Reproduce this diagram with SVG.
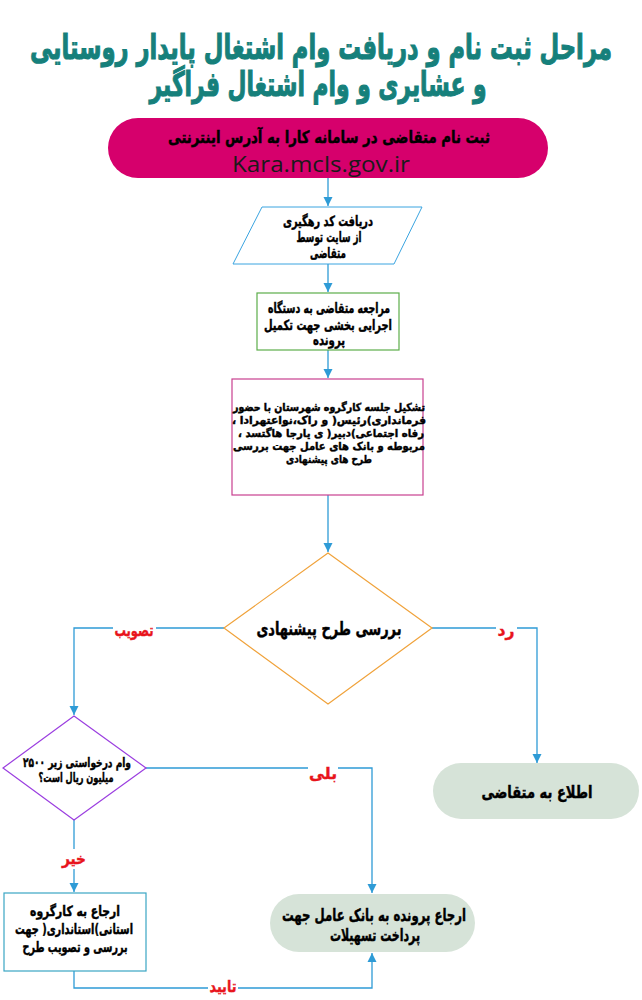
<svg xmlns="http://www.w3.org/2000/svg" width="642" height="1000" viewBox="0 0 642 1000">
<defs>
<marker id="ah" markerWidth="10" markerHeight="10" refX="9" refY="5" orient="auto" markerUnits="userSpaceOnUse">
<path d="M0,0.5 L9,5 L0,9.5 Z" fill="#2e9bd6"/>
</marker>
<style>
.t{font-family:"DejaVu Sans","Noto Sans",sans-serif;font-weight:bold;fill:#000;stroke:#000;stroke-width:0.45;text-anchor:middle;direction:rtl}
.title{font-family:"DejaVu Sans","Noto Sans",sans-serif;font-weight:bold;fill:#16807b;stroke:#16807b;stroke-width:1.1;text-anchor:middle;direction:rtl;font-size:34px}
.lbl{font-family:"DejaVu Sans","Noto Sans",sans-serif;font-weight:bold;fill:#e8141c;stroke:#e8141c;stroke-width:0.4;text-anchor:middle;direction:rtl;font-size:16px}
.c{fill:none;stroke:#2e9bd6;stroke-width:1.3;marker-end:url(#ah)}
.bg{fill:#fff}
</style>
</defs>
<rect width="642" height="1000" fill="#fff"/>

<g id="title">
<text class="title" transform="translate(321,59) scale(0.6,1)" x="0" y="0" textLength="970" lengthAdjust="spacingAndGlyphs">مراحل ثبت نام و دریافت وام اشتغال پایدار روستایی</text>
<text class="title" transform="translate(318,96) scale(0.6,1)" x="0" y="0" textLength="562" lengthAdjust="spacingAndGlyphs">و عشایری و وام اشتغال فراگیر</text>
</g>

<g id="connectors">
<path class="c" d="M328,178 V206"/>
<path class="c" d="M328,264 V292"/>
<path class="c" d="M328,350 V378"/>
<path class="c" d="M328,495 V552"/>
<path class="c" d="M224,628 H74 V715"/>
<path class="c" d="M432,628 H537 V763"/>
<path class="c" d="M146,768 H372 V893"/>
<path class="c" d="M74,820 V892"/>
<path class="c" d="M74,971 V988 H372 V953"/>
<rect class="bg" x="113" y="620" width="43" height="18"/>
<text class="lbl" x="134" y="636" textLength="39" lengthAdjust="spacingAndGlyphs">تصویب</text>
<rect class="bg" x="496" y="620" width="21" height="18"/>
<text class="lbl" x="506" y="636" textLength="17" lengthAdjust="spacingAndGlyphs">رد</text>
<rect class="bg" x="308" y="764" width="30" height="18"/>
<text class="lbl" x="323" y="779" textLength="28" lengthAdjust="spacingAndGlyphs">بلی</text>
<rect class="bg" x="61" y="849" width="26" height="20"/>
<text class="lbl" x="74" y="864" textLength="24" lengthAdjust="spacingAndGlyphs">خیر</text>
<rect class="bg" x="208" y="977" width="30" height="20"/>
<text class="lbl" x="223" y="992" textLength="27" lengthAdjust="spacingAndGlyphs">تایید</text>
</g>

<g id="n1">
<rect x="108" y="118" width="440" height="60" rx="30" fill="#d6006c"/>
<text class="t" x="329" y="143" font-size="17" textLength="322" lengthAdjust="spacingAndGlyphs">ثبت نام متقاضی در سامانه کارا به آدرس اینترنتی</text>
<text x="321" y="172" font-family="'Open Sans','Noto Sans',sans-serif" font-size="22" fill="#1a1a1a" text-anchor="middle" textLength="178" lengthAdjust="spacingAndGlyphs">Kara.mcls.gov.ir</text>
</g>

<g id="n2">
<polygon points="262,207 422,207 394,264 233,264" fill="#fff" stroke="#3aa4e0" stroke-width="1"/>
<text class="t" x="328" y="226" font-size="14" textLength="90" lengthAdjust="spacingAndGlyphs">دریافت کد رهگیری</text>
<text class="t" x="329" y="242" font-size="14" textLength="65" lengthAdjust="spacingAndGlyphs">از سایت توسط</text>
<text class="t" x="328" y="258" font-size="14" textLength="36" lengthAdjust="spacingAndGlyphs">متقاضی</text>
</g>

<g id="n3">
<rect x="257" y="293" width="142" height="57" fill="#fff" stroke="#5cad4a" stroke-width="1.2"/>
<text class="t" x="329" y="313" font-size="14" textLength="122" lengthAdjust="spacingAndGlyphs">مراجعه متقاضی به دستگاه</text>
<text class="t" x="328" y="330" font-size="14" textLength="128" lengthAdjust="spacingAndGlyphs">اجرایی بخشی جهت تکمیل</text>
<text class="t" x="329" y="345" font-size="14" textLength="32" lengthAdjust="spacingAndGlyphs">پرونده</text>
</g>

<g id="n4">
<rect x="232" y="379" width="191" height="116" fill="#fff" stroke="#c8408f" stroke-width="1.2"/>
<text class="t" x="329" y="411" font-size="11" textLength="192" lengthAdjust="spacingAndGlyphs">تشکیل جلسه کارگروه شهرستان با حضور</text>
<text class="t" x="329" y="424" font-size="11" textLength="194" lengthAdjust="spacingAndGlyphs">فرمانداری)رئیس( و راک،نواعتهرادا ،</text>
<text class="t" x="331" y="437" font-size="11" textLength="186" lengthAdjust="spacingAndGlyphs">رفاه اجتماعی)دبیر( ی یارجا هاگتسد ،</text>
<text class="t" x="329" y="450" font-size="11" textLength="192" lengthAdjust="spacingAndGlyphs">مربوطه و بانک های عامل جهت بررسی</text>
<text class="t" x="329" y="463" font-size="11" textLength="86" lengthAdjust="spacingAndGlyphs">طرح های پیشنهادی</text>
</g>

<g id="n5">
<polygon points="328,553 432,628 328,704 224,628" fill="#fff" stroke="#f0a23a" stroke-width="1.2"/>
<text class="t" x="329" y="635" font-size="18" textLength="145" lengthAdjust="spacingAndGlyphs">بررسی طرح پیشنهادی</text>
</g>

<g id="n6">
<polygon points="74,716 146,768 74,820 3,768" fill="#fff" stroke="#9b3ee0" stroke-width="1.2"/>
<text class="t" x="77" y="767" font-size="13" textLength="108" lengthAdjust="spacingAndGlyphs">وام درخواستی زیر ۲۵۰۰</text>
<text class="t" x="76" y="782" font-size="13" textLength="75" lengthAdjust="spacingAndGlyphs">میلیون ریال است؟</text>
</g>

<g id="n7">
<rect x="433" y="763" width="206" height="56" rx="28" fill="#d6e3d8"/>
<text class="t" x="537" y="798" font-size="17" textLength="111" lengthAdjust="spacingAndGlyphs">اطلاع به متقاضی</text>
</g>

<g id="n8">
<rect x="4" y="893" width="142" height="78" fill="#fff" stroke="#3aa6c4" stroke-width="1.2"/>
<text class="t" x="75" y="916" font-size="14" textLength="90" lengthAdjust="spacingAndGlyphs">ارجاع به کارگروه</text>
<text class="t" x="74" y="934" font-size="14" textLength="118" lengthAdjust="spacingAndGlyphs">استانی)استانداری( جهت</text>
<text class="t" x="75" y="952" font-size="14" textLength="105" lengthAdjust="spacingAndGlyphs">بررسی و تصویب طرح</text>
</g>

<g id="n9">
<rect x="270" y="894" width="205" height="58" rx="29" fill="#d6e3d8"/>
<text class="t" x="374" y="921" font-size="17" textLength="184" lengthAdjust="spacingAndGlyphs">ارجاع پرونده به بانک عامل جهت</text>
<text class="t" x="375" y="941" font-size="17" textLength="90" lengthAdjust="spacingAndGlyphs">پرداخت تسهیلات</text>
</g>
</svg>
